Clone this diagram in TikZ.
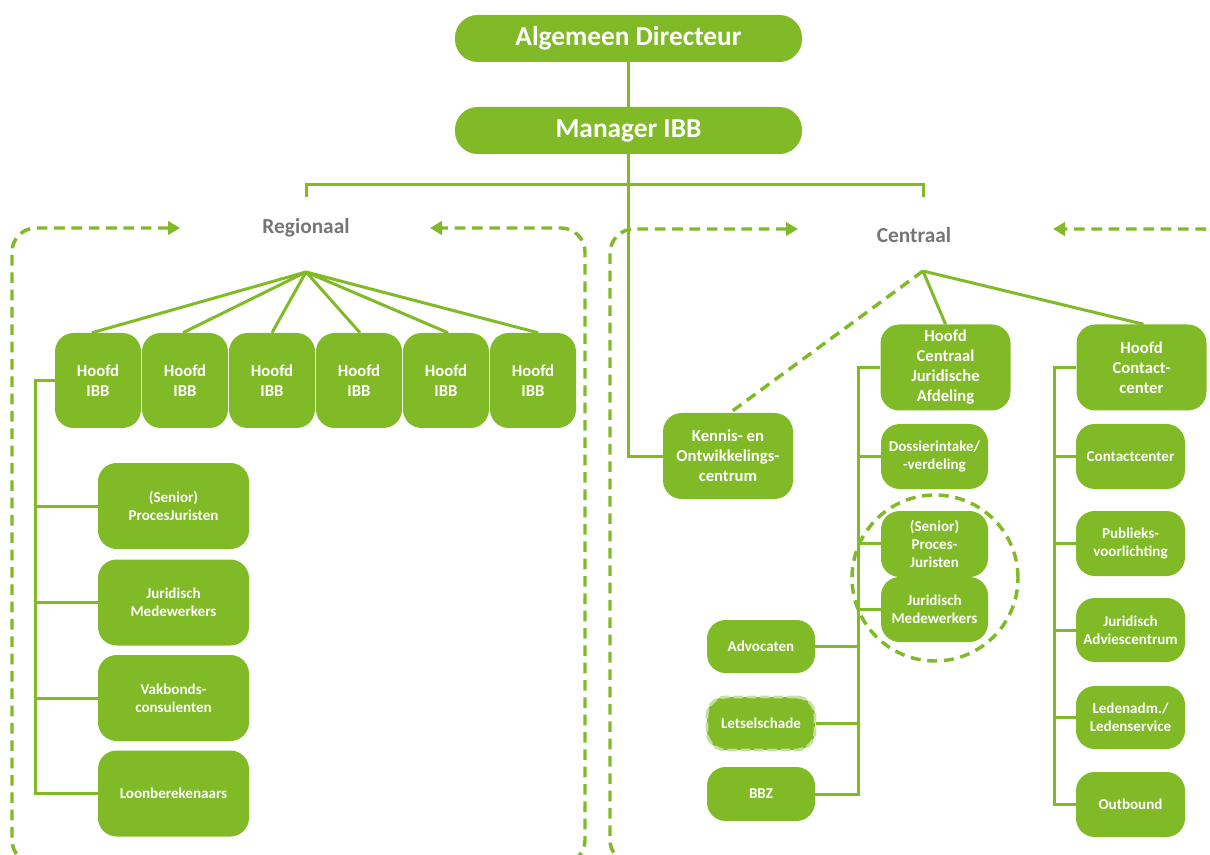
\documentclass[tikz,border=0pt]{standalone}
\usepackage{fontspec}
\setmainfont{Carlito}
\usetikzlibrary{arrows.meta}
\definecolor{gr}{RGB}{128,186,39}
\definecolor{lg}{RGB}{198,223,160}
\definecolor{tx}{RGB}{117,117,117}
\begin{document}
\begin{tikzpicture}[x=0.75pt,y=-0.75pt,
  box/.style={fill=gr, rounded corners=14pt, text=white, align=center, inner sep=0pt,
    font=\fontsize{11.3}{13.5}\selectfont\bfseries},
  bigbox/.style={box, rounded corners=17pt, minimum width=260.25pt, minimum height=35.25pt,
    font=\fontsize{20.5}{24}\selectfont\bfseries},
  hbox/.style={box, font=\fontsize{12.5}{15}\selectfont\bfseries},
  conn/.style={draw=gr, line width=2.25pt},
  dconn/.style={draw=gr, line width=2.6pt, dash pattern=on 8pt off 5pt},
  region/.style={draw=gr, line width=2.6pt, dash pattern=on 8pt off 5pt, rounded corners=18pt,
    {Triangle[length=9pt,width=10pt]}-{Triangle[length=9pt,width=10pt]}},
  lbl/.style={text=tx, font=\fontsize{16}{19}\selectfont\bfseries}
]
\useasboundingbox (0,0) rectangle (1210,855);

% regions
\draw[region] (180,228) -- (12,228) -- (12,864) -- (585,864) -- (585,228) -- (430,228);
\draw[region] (798,229) -- (610,229) -- (610,864) -- (1228,864) -- (1228,229) -- (1053,229);
\node[lbl] (reg) at (306,228) {Regionaal};
\node[lbl] (cen) at (914,235) {Centraal};

% top
\node[bigbox] (ad) at (628.5,38.5) {Algemeen Directeur};
\node[bigbox] (mibb) at (628.5,130.5) {Manager IBB};

% regional
\foreach \i/\x in {1/98,2/185,3/272,4/359,5/446,6/533}
  \node[hbox, minimum width=64.5pt, minimum height=71.25pt] (h\i) at (\x,380.5) {Hoofd\\IBB};
\node[box, minimum width=113.25pt, minimum height=64.5pt] (r1) at (173.5,506) {(Senior)\\ProcesJuristen};
\node[box, minimum width=113.25pt, minimum height=64.5pt] (r2) at (173.5,602.5) {Juridisch\\Medewerkers};
\node[box, minimum width=113.25pt, minimum height=64.5pt] (r3) at (173.5,698) {Vakbonds-\\consulenten};
\node[box, minimum width=113.25pt, minimum height=64.5pt] (r4) at (173.5,793.5) {Loonberekenaars};

% central
\node[hbox, minimum width=97.5pt, minimum height=64.5pt] (ken) at (728,456) {Kennis- en\\Ontwikkelings-\\centrum};
\node[hbox, minimum width=97.5pt, minimum height=64.5pt] (hcja) at (945.5,367.5) {Hoofd\\Centraal\\Juridische\\Afdeling};
\node[hbox, minimum width=97.5pt, minimum height=64.5pt] (hcc) at (1141.5,367.5) {Hoofd\\Contact-\\center};
\node[box, minimum width=80.25pt, minimum height=48.75pt] (dos) at (934.5,456.5) {Dossierintake/\\-verdeling};
\node[box, minimum width=80.25pt, minimum height=49.5pt] (spj) at (934.5,544) {(Senior)\\Proces-\\Juristen};
\node[box, minimum width=80.25pt, minimum height=48.75pt] (jm) at (934.5,609.5) {Juridisch\\Medewerkers};
\node[box, minimum width=81pt, minimum height=39.75pt] (adv) at (761,646.5) {Advocaten};
\node[box, minimum width=81pt, minimum height=39.75pt, draw=lg, line width=2.2pt, dash pattern=on 7pt off 3pt] (let) at (761,723.5) {Letselschade};
\node[box, minimum width=81pt, minimum height=40.5pt] (bbz) at (761,794) {BBZ};
\node[box, minimum width=81.75pt, minimum height=48.75pt] (c1) at (1130.5,456.5) {Contactcenter};
\node[box, minimum width=81.75pt, minimum height=48.75pt] (c2) at (1130.5,543.5) {Publieks-\\voorlichting};
\node[box, minimum width=81.75pt, minimum height=48pt] (c3) at (1130.5,630) {Juridisch\\Adviescentrum};
\node[box, minimum width=81.75pt, minimum height=47.25pt] (c4) at (1130.5,717.5) {Ledenadm./\\Ledenservice};
\node[box, minimum width=81.75pt, minimum height=48.75pt] (c5) at (1130.5,804.5) {Outbound};

% dashed circle
\draw[gr, line width=2.6pt, dash pattern=on 7.5pt off 5pt] (935,578) circle [radius=62.25pt];

% coordinates
\coordinate (rt) at (306,197);
\coordinate (ct) at (923,197);
\coordinate (rh) at (306,272);
\coordinate (ch) at (923,271);
\coordinate (rb) at (35,0);
\coordinate (jb) at (858,0);
\coordinate (cb) at (1054,0);

% connectors top
\draw[conn] (ad) -- (mibb);
\draw[conn] (mibb.south) |- (ken.west);
\draw[conn] (rt) -- (306,185) -- (923,185) -- (ct);

% regional fan
\draw[conn] (rh) -- ([xshift=-4.5pt]h1.north);
\draw[conn] (rh) -- ([xshift=-1.5pt]h2.north);
\draw[conn] (rh) -- (h3.north);
\draw[conn] (rh) -- ([xshift=0.75pt]h4.north);
\draw[conn] (rh) -- ([xshift=1.5pt]h5.north);
\draw[conn] (rh) -- ([xshift=3.75pt]h6.north);

% regional bracket
\draw[conn] (h1.west) -- (h1.west -| rb) -- (r4.west -| rb) -- (r4.west);
\foreach \n in {r1,r2,r3} \draw[conn] (\n.west) -- (\n.west -| rb);

% central fan
\draw[dconn] (ch) -- ([xshift=1.5pt]ken.north);
\draw[conn] (ch) -- (hcja.north);
\draw[conn] (ch) -- ([xshift=1.5pt]hcc.north);

% juridisch bracket
\draw[conn] (hcja.west) -- (hcja.west -| jb) -- (bbz.east -| jb) -- (bbz.east);
\foreach \n in {dos,jm} \draw[conn] (\n.west) -- (\n.west -| jb);
\draw[conn] ([yshift=0.75pt]spj.west) -- ([yshift=0.75pt]spj.west -| jb);
\foreach \n in {adv,let} \draw[conn] (\n.east) -- (\n.east -| jb);

% contact bracket
\draw[conn] (hcc.west) -- (hcc.west -| cb) -- (c5.west -| cb) -- (c5.west);
\foreach \n in {c1,c2,c3,c4} \draw[conn] (\n.west) -- (\n.west -| cb);
\end{tikzpicture}
\end{document}
